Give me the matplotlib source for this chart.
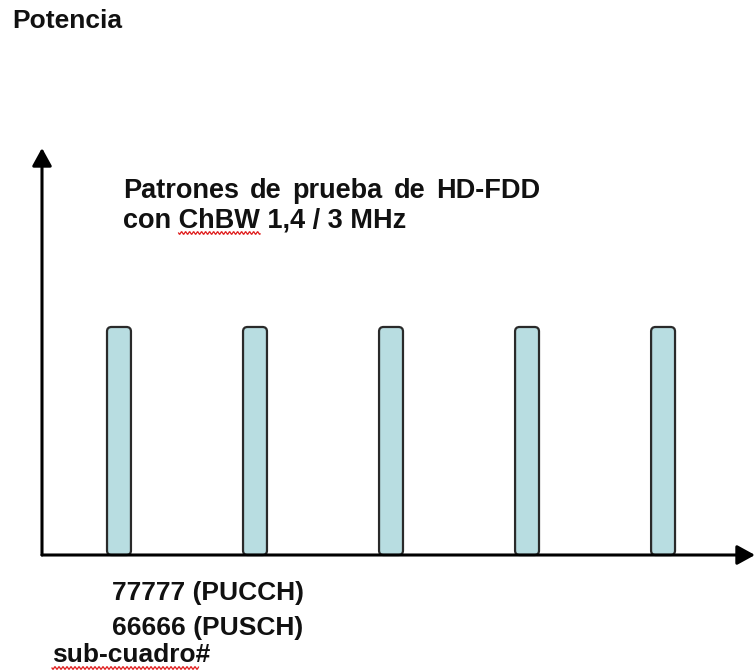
import numpy as np
import matplotlib
matplotlib.use("Agg")
import matplotlib.pyplot as plt
from matplotlib.patches import FancyBboxPatch

# Pattern slots along the sub-frame axis and their (normalised) power
slots = [1, 2, 3, 4, 5]
power = [1.0, 1.0, 1.0, 1.0, 1.0]

y_label = "Potencia"
title_lines = ["Patrones de prueba de HD-FDD", "con ChBW 1,4 / 3 MHz"]
pattern_lines = ["77777 (PUCCH)", "66666 (PUSCH)"]
x_label = "sub-cuadro#"

W, H = 756, 671
fig = plt.figure(figsize=(W / 100, H / 100), dpi=100)
fig.patch.set_facecolor("white")
plt.rcParams["font.family"] = ["Liberation Sans", "DejaVu Sans"]


def fx(x):
    return x / W


def fy(y):
    return 1 - y / H


ax = fig.add_axes([fx(42), fy(555), fx(755) - fx(42), fy(148) - fy(555)])
ax.set_xlim(0.434, 5.676)
ax.set_ylim(0, 1.785)
ax.set_axis_off()

bar_w = 0.176
# keep the corner radius circular on screen
bbox = ax.get_window_extent()
x_per_px = (5.676 - 0.434) / bbox.width
y_per_px = 1.785 / bbox.height
aspect = y_per_px / x_per_px
for s, p in zip(slots, power):
    ax.add_patch(FancyBboxPatch(
        (s - bar_w / 2, 0), bar_w, p,
        boxstyle=f"round,pad=0,rounding_size={4.5 * x_per_px}",
        mutation_aspect=aspect,
        facecolor="#b8dde1", edgecolor="#2a2a2a", linewidth=1.6,
        zorder=2, clip_on=False))

arrow = dict(arrowstyle="-|>,head_length=0.4,head_width=0.22", color="black",
             lw=2.2, shrinkA=0, shrinkB=0, mutation_scale=27)
ax.annotate("", xy=(1, 0), xytext=(0, 0), xycoords="axes fraction",
            textcoords="axes fraction", arrowprops=arrow, zorder=3)
ax.annotate("", xy=(0, 1), xytext=(0, 0), xycoords="axes fraction",
            textcoords="axes fraction", arrowprops=arrow, zorder=3)

kw = dict(fontsize=19, fontweight="bold", color="#111111", va="baseline", ha="left")
tkw = dict(kw, fontsize=19.5)
fig.text(fx(12), fy(28), y_label, **kw)
fig.text(fx(112), fy(600), pattern_lines[0], **kw)
fig.text(fx(112), fy(635), pattern_lines[1], **kw)
t4 = fig.text(fx(52), fy(662), x_label, **kw)
fig.text(fx(123), fy(228), title_lines[1], **tkw)

fig.canvas.draw()
renderer = fig.canvas.get_renderer()


def text_width(s, style):
    tmp = fig.text(0, 0, s, **style)
    w = tmp.get_window_extent(renderer).width
    tmp.remove()
    return w


# first title line is justified across a fixed width
words = title_lines[0].split(" ")
widths = [text_width(w, tkw) for w in words]
line_w = 417
gap = (line_w - sum(widths)) / (len(words) - 1)
x = 123
for w, ww in zip(words, widths):
    fig.text(fx(x), fy(198), w, **tkw)
    x += ww + gap


def squiggle(x0, x1, y):
    xs = np.arange(x0, x1 + 0.5, 0.5)
    ys = y + 1.3 * np.sin((xs - x0) * 2 * np.pi / 4.0)
    fig.add_artist(plt.Line2D(xs / W, 1 - ys / H, color="#e02020", lw=0.9))


# spelling squiggles under "ChBW" and the axis caption
x_start = 123 + text_width("con ", tkw)
squiggle(x_start, x_start + text_width("ChBW", tkw), 233)
bb = t4.get_window_extent(renderer)
squiggle(bb.x0, bb.x1 - 12, 668)

fig.savefig("out.png", dpi=100, facecolor="white")
